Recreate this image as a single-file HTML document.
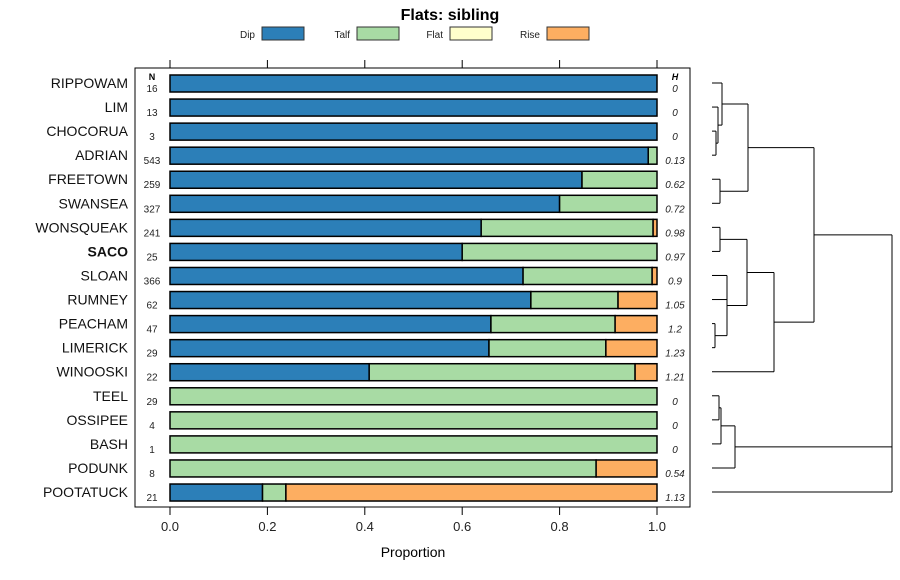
<!DOCTYPE html>
<html><head><meta charset="utf-8"><style>
body{margin:0;background:#fff;font-family:"Liberation Sans",sans-serif}
svg{display:block}
</style></head><body>
<svg id="chart" width="900" height="580" xmlns="http://www.w3.org/2000/svg" font-family="Liberation Sans, sans-serif">
<text x="450" y="20" text-anchor="middle" font-size="16" font-weight="bold">Flats: sibling</text>
<g id="legend"></g>
<rect x="135" y="68" width="555" height="439" fill="none" stroke="#000" stroke-width="1"/>
<g id="axes"></g>
<g id="bars"></g>
<g id="dendro" stroke="#000" stroke-width="1" fill="none"></g>
<text x="413" y="557" text-anchor="middle" font-size="14">Proportion</text>
</svg>
<script>
const categories=["RIPPOWAM","LIM","CHOCORUA","ADRIAN","FREETOWN","SWANSEA","WONSQUEAK","SACO","SLOAN","RUMNEY","PEACHAM","LIMERICK","WINOOSKI","TEEL","OSSIPEE","BASH","PODUNK","POOTATUCK"];
const seriesNames=["Dip","Talf","Flat","Rise"];
const dip =[1,1,1,0.982,0.846,0.80,0.639,0.60,0.725,0.741,0.659,0.655,0.409,0,0,0,0,0.19];
const talf=[0,0,0,0.018,0.154,0.20,0.353,0.40,0.265,0.179,0.255,0.24,0.546,1,1,1,0.875,0.048];
const flat=[0,0,0,0,0,0,0,0,0,0,0,0,0,0,0,0,0,0];
const rise=[0,0,0,0,0,0,0.008,0,0.01,0.08,0.086,0.105,0.045,0,0,0,0.125,0.762];
const nValues=["16","13","3","543","259","327","241","25","366","62","47","29","22","29","4","1","8","21"];
const hValues=["0","0","0","0.13","0.62","0.72","0.98","0.97","0.9","1.05","1.2","1.23","1.21","0","0","0","0.54","1.13"];
const xTicks=[0,0.2,0.4,0.6,0.8,1.0];
const xTickLabels=["0.0","0.2","0.4","0.6","0.8","1.0"];
const colors=["#2c7fb8","#a8dba4","#ffffcc","#fdae61"];
const NS="http://www.w3.org/2000/svg";
const X=v=>170+v*487;
const Y=i=>83+i*24.06;
function mk(tag,attrs,parent,text){const e=document.createElementNS(NS,tag);for(const k in attrs)e.setAttribute(k,attrs[k]);if(text!==undefined)e.textContent=text;parent.appendChild(e);return e;}
const axes=document.getElementById('axes'),bars=document.getElementById('bars'),leg=document.getElementById('legend');
// legend
const legX=[262,357,450,547];
seriesNames.forEach((s,j)=>{
 const t=mk('text',{x:legX[j]-7,y:38,'text-anchor':'end','font-size':10,fill:'#222'},leg,s);
 
 
 const r=mk('rect',{x:legX[j],y:27,width:42,height:13,fill:colors[j],stroke:'#333','stroke-width':1},leg);
 
 
});
// ticks
xTicks.forEach((v,k)=>{
 const t1=mk('line',{x1:X(v),x2:X(v),y1:60,y2:68,stroke:'#000'},axes);
 
 
 const t2=mk('line',{x1:X(v),x2:X(v),y1:507,y2:515,stroke:'#000'},axes);
 
 
 const l=mk('text',{x:X(v),y:531,'text-anchor':'middle','font-size':13,fill:'#222'},axes,xTickLabels[k]);
 
 
});
const nh=mk('text',{x:152,y:80,'text-anchor':'middle','font-size':9,'font-weight':'bold'},axes,'N');


const hh=mk('text',{x:675,y:80,'text-anchor':'middle','font-size':9,'font-weight':'bold','font-style':'italic'},axes,'H');


const series=[dip,talf,flat,rise];
categories.forEach((c,i)=>{
 const y=Y(i);
 const lab=mk('text',{x:128,y:y+5,'text-anchor':'end','font-size':14,fill:'#111','font-weight':c==='SACO'?'bold':'normal'},axes,c);
 
 
 const n=mk('text',{x:152,y:y+9,'text-anchor':'middle','font-size':10,fill:'#222'},axes,nValues[i]);
 
 
 const h=mk('text',{x:675,y:y+9,'text-anchor':'middle','font-size':10,'font-style':'italic',fill:'#222'},axes,hValues[i]);
 
 
 let acc=0;
 series.forEach((arr,j)=>{
  const v=arr[i]; if(v<=0)return;
  const r=mk('rect',{x:X(acc),y:y-8,width:X(acc+v)-X(acc),height:17,fill:colors[j],stroke:'#000','stroke-width':1.5},bars);
  
  
  acc+=v;
 });
});
// dendrogram
const d=document.getElementById('dendro');
const L=712;
function seg(x1,y1,x2,y2){const e=mk('line',{x1,y1,x2,y2},d);}
function join(a,ax,b,bx,h){seg(ax,a,h,a);seg(bx,b,h,b);seg(h,a,h,b);return (a+b)/2;}
const ca=join(Y(2),L,Y(3),L,716);
const lca=join(Y(1),L,ca,716,718);
const rlca=join(Y(0),L,lca,718,722);
const fs=join(Y(4),L,Y(5),L,720);
const g1=join(rlca,722,fs,720,748);
const ws=join(Y(6),L,Y(7),L,720);
const pl=join(Y(10),L,Y(11),L,715);
const sr=join(Y(8),L,Y(9),L,727);
const srpl=join(Y(8),L,pl,715,727);
const wsg=join(ws,720,(Y(8)+pl)/2,727,747);
const g2=join(wsg,747,Y(12),L,774);
const g12=join(g1,748,g2,774,814);
const to=join(Y(13),L,Y(14),L,719);
const tob=join(to,719,Y(15),L,721);
const g3=join(tob,721,Y(16),L,735);
seg(814,g12,892,g12);seg(735,g3,892,g3);seg(L,Y(17),892,Y(17));seg(892,g12,892,Y(17));
</script>
</body></html>
